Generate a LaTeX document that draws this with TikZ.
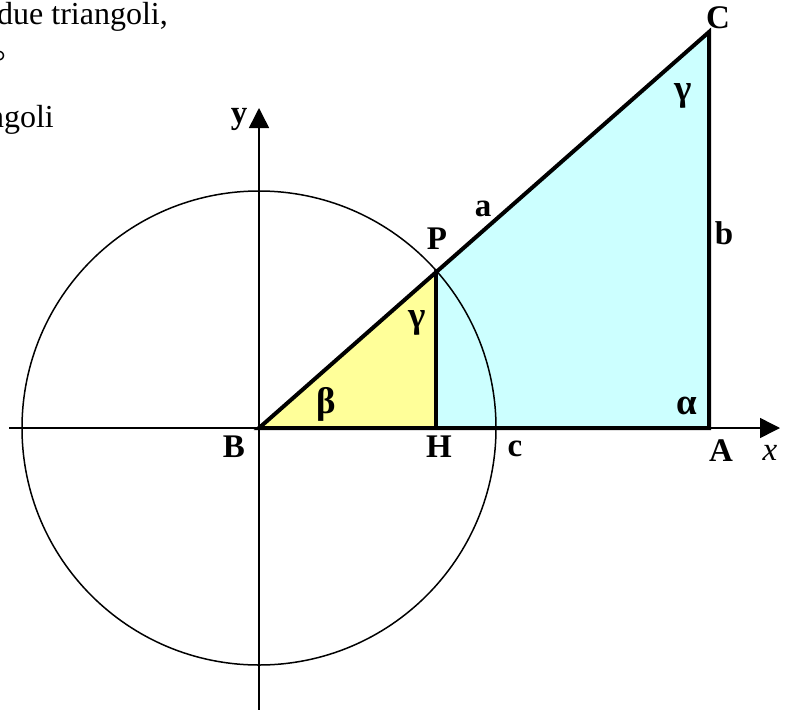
\documentclass[tikz,border=0pt]{standalone}
\usepackage{fontspec}
\setmainfont{Liberation Serif}
\usetikzlibrary{arrows.meta}
\tikzset{
  thin line/.style={line width=1.5pt,black},
  thick line/.style={line width=4pt,black,line cap=round,line join=miter},
  axis arrow/.style={thin line,-{Triangle[length=20pt,width=20pt]}},
  lbl/.style={inner sep=0pt,font=\fontsize{33}{34}\selectfont\bfseries},
  glbl/.style={inner sep=0pt,font=\fontsize{37}{38}\selectfont\bfseries},
  txt/.style={inner sep=0pt,font=\fontsize{32}{34}\selectfont},
}
\definecolor{cyanfill}{HTML}{CCFFFF}
\definecolor{yellowfill}{HTML}{FFFF99}
\begin{document}
\begin{tikzpicture}[x=1pt,y=-1pt]
\clip (0,0) rectangle (789,709);
% key points
\coordinate (B) at (259,428);
\coordinate (H) at (436,428);
\coordinate (P) at (436,271);
\coordinate (C) at (709,32);
\coordinate (A) at (709,428);
\coordinate (xL) at (9,428);
\coordinate (xR) at (780,428);
\coordinate (yB) at (259,712);
\coordinate (yT) at (259,108);
% fills
\fill[cyanfill] (P) -- (C) -- (A) -- (H) -- cycle;
\fill[yellowfill] (B) -- (P) -- (H) -- cycle;
% circle and axes
\draw[thin line] (B) circle[radius=237];
\draw[axis arrow] (xL) -- (xR);
\draw[axis arrow] (yB) -- (yT);
% thick triangle sides
\draw[thick line] (B) -- (C) -- (A) -- cycle;
\draw[thick line] (P) -- (H);
% vertex and side labels
\node[lbl] (lC) at (718,18) {C};
\node[glbl] (lgC) at (683,96) {γ};
\node[lbl] (ly) at (239,119) {y};
\node[lbl] (la) at (483,209) {a};
\node[lbl] (lP) at (437,239) {P};
\node[lbl] (lb) at (724,233) {b};
\node[glbl] (lgP) at (417,323) {γ};
\node[glbl] (lbeta) at (326,404) {β};
\node[lbl] (lB) at (234,447) {B};
\node[lbl] (lH) at (439,447) {H};
\node[lbl] (lc) at (515,449) {c};
\node[glbl] (lalpha) at (687,406) {α};
\node[lbl] (lA) at (721,451) {A};
\node[inner sep=0pt,font=\fontsize{33}{34}\selectfont\itshape] (lx) at (770,453) {x};
% cropped text fragments at top left
\node[txt,anchor=base east] (t1) at (168,25) {due triangoli,};
\node[txt,anchor=north east] (t2) at (6,51) {°};
\node[txt,anchor=base east] (t3) at (54,127) {ngoli};
\end{tikzpicture}
\end{document}
